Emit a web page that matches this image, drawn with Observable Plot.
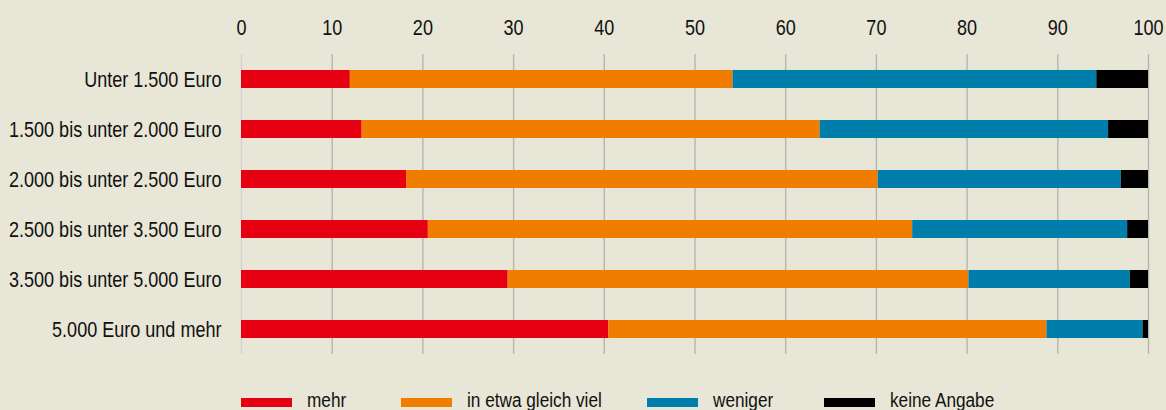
<!DOCTYPE html>
<html>
<head>
<meta charset="utf-8">
<script src="https://cdn.jsdelivr.net/npm/d3@7"></script>
<script src="https://cdn.jsdelivr.net/npm/@observablehq/plot@0.6"></script>
<style>
  html, body { margin: 0; padding: 0; background: #e8e6d6; }
  body { width: 1166px; height: 410px; overflow: hidden; font-family: "Liberation Sans", Arial, sans-serif; }
  #chart svg { display: block; }
  #legend { position: relative; height: 30px; font-size: 20px; color: #111; }
  .item { position: absolute; top: 0; display: flex; align-items: center; height: 30px; }
  .sw { width: 51px; height: 9px; margin-right: 15px; margin-top: 14px; flex: none; }
  .lab { margin-top: 10px; display: inline-block; white-space: nowrap; transform: scaleX(0.86); transform-origin: left center; }
</style>
</head>
<body>
<div id="chart"></div>
<div id="legend"></div>
<script>
const groups = [
  "Unter 1.500 Euro",
  "1.500 bis unter 2.000 Euro",
  "2.000 bis unter 2.500 Euro",
  "2.500 bis unter 3.500 Euro",
  "3.500 bis unter 5.000 Euro",
  "5.000 Euro und mehr"
];
const seriesNames = ["mehr", "in etwa gleich viel", "weniger", "keine Angabe"];
const seriesColors = ["#e60012", "#f07d00", "#007eab", "#000000"];
const mehr    = [12.0, 13.3, 18.2, 20.6, 29.4, 40.5];
const gleich  = [42.2, 50.5, 52.0, 53.4, 50.8, 48.3];
const weniger = [40.1, 31.8, 26.8, 23.7, 17.8, 10.6];
const keine   = [5.7, 4.4, 3.0, 2.3, 2.0, 0.6];
const xTicks = [0, 10, 20, 30, 40, 50, 60, 70, 80, 90, 100];
const legendLeft = [241, 401, 647, 824];

const seriesValues = [mehr, gleich, weniger, keine];
const data = [];
groups.forEach((g, i) => {
  seriesNames.forEach((s, j) => {
    data.push({group: g, series: s, value: seriesValues[j][i]});
  });
});

const chart = Plot.plot({
  width: 1166,
  height: 380,
  marginTop: 54,
  marginBottom: 26,
  marginLeft: 241,
  marginRight: 18,
  style: {background: "transparent", fontFamily: "'Liberation Sans', Arial, sans-serif", fontSize: "22px", color: "#111"},
  x: {domain: [0, 100], ticks: xTicks},
  y: {domain: groups, paddingInner: 0.64, paddingOuter: 0.32},
  color: {domain: seriesNames, range: seriesColors},
  marks: [
    Plot.ruleX(xTicks, {stroke: d => d === 0 ? "#d2d2d2" : "#b2b2b2", strokeWidth: 1.3}),
    Plot.barX(data, Plot.stackX({x: "value", y: "group", fill: "series", order: seriesNames})),
    Plot.axisX({anchor: "top", ticks: xTicks, tickSize: 0, tickPadding: 20, fontSize: 22, label: null}),
    Plot.axisY({tickSize: 0, tickPadding: 20, fontSize: 22, label: null})
  ]
});
// narrow the type, like a condensed face
chart.querySelectorAll("text").forEach(t => {
  const tr = t.getAttribute("transform") || "";
  const x = t.getAttribute("x");
  if (x !== null) t.removeAttribute("x");
  t.setAttribute("transform", `${tr} translate(${x !== null ? +x : 0},0) scale(0.82,1)`);
});
document.getElementById("chart").appendChild(chart);

const legend = document.getElementById("legend");
seriesNames.forEach((s, j) => {
  const item = document.createElement("div");
  item.className = "item";
  item.style.left = legendLeft[j] + "px";
  const sw = document.createElement("div");
  sw.className = "sw";
  sw.style.background = seriesColors[j];
  const lab = document.createElement("span");
  lab.className = "lab";
  lab.textContent = s;
  item.appendChild(sw);
  item.appendChild(lab);
  legend.appendChild(item);
});
</script>
</body>
</html>
